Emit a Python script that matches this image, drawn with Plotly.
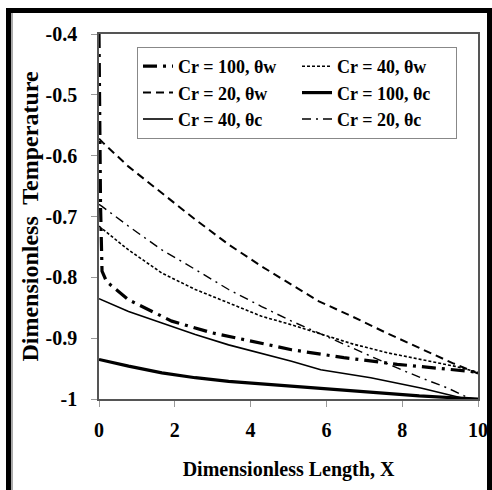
import plotly.graph_objects as go

# ---- data ----
x_cr100_w = [0, 0.04, 0.08, 0.2, 0.78, 1.92, 2.97, 4.2, 5.08, 6.46, 7.87, 9.2, 10]
y_cr100_w = [-0.40, -0.68, -0.79, -0.807, -0.837, -0.872, -0.891, -0.908, -0.919, -0.932, -0.943, -0.951, -0.956]

x_cr40_w = [0, 0.78, 1.66, 2.54, 3.42, 4.29, 5.08, 5.85, 6.72, 7.61, 8.49, 9.37, 10]
y_cr40_w = [-0.716, -0.755, -0.793, -0.820, -0.842, -0.864, -0.878, -0.893, -0.910, -0.924, -0.935, -0.946, -0.956]

x_cr20_w = [0, 0.11, 0.78, 1.66, 2.54, 3.42, 4.29, 5.08, 5.79, 6.67, 7.57, 8.45, 9.33, 10]
y_cr20_w = [-0.572, -0.579, -0.618, -0.661, -0.705, -0.746, -0.782, -0.812, -0.839, -0.864, -0.891, -0.916, -0.941, -0.958]

x_cr100_c = [0, 0.78, 1.66, 2.54, 3.42, 4.29, 5.08, 5.85, 6.67, 7.61, 8.45, 9.37, 10]
y_cr100_c = [-0.935, -0.946, -0.957, -0.965, -0.971, -0.975, -0.979, -0.982, -0.987, -0.990, -0.995, -0.998, -1.0]

x_cr40_c = [0, 0.78, 1.66, 2.54, 3.42, 4.29, 5.08, 5.85, 7.17, 8.49, 9.55, 10]
y_cr40_c = [-0.835, -0.856, -0.875, -0.894, -0.911, -0.925, -0.938, -0.952, -0.965, -0.982, -0.998, -1.0]

x_cr20_c = [0, 0.07, 0.78, 1.66, 2.54, 3.42, 4.29, 5.08, 5.85, 6.72, 7.17, 7.87, 8.49, 9.2, 9.64, 9.85]
y_cr20_c = [-0.680, -0.683, -0.716, -0.755, -0.787, -0.820, -0.848, -0.872, -0.893, -0.917, -0.930, -0.949, -0.965, -0.982, -0.995, -1.0]

series_names = ["Cr = 100, θw", "Cr = 40, θw", "Cr = 20, θw",
                "Cr = 100, θc", "Cr = 40, θc", "Cr = 20, θc"]

x_tick_vals = [0, 2, 4, 6, 8, 10]
x_tick_text = ["0", "2", "4", "6", "8", "10"]
y_tick_vals = [-1.0, -0.9, -0.8, -0.7, -0.6, -0.5, -0.4]
y_tick_text = ["-1", "-0.9", "-0.8", "-0.7", "-0.6", "-0.5", "-0.4"]

x_title = "Dimensionless Length, X"
y_title = "Dimensionless  Temperature"

# ---- styling ----
FONT = "Liberation Serif"
styles = [
    dict(width=3.2, dash="14px,6px,3px,6px"),
    dict(width=1.6, dash="3px,2px"),
    dict(width=2.0, dash="8px,5px"),
    dict(width=3.2, dash="solid"),
    dict(width=1.6, dash="solid"),
    dict(width=1.4, dash="9px,5px,2px,5px"),
]
xs = [x_cr100_w, x_cr40_w, x_cr20_w, x_cr100_c, x_cr40_c, x_cr20_c]
ys = [y_cr100_w, y_cr40_w, y_cr20_w, y_cr100_c, y_cr40_c, y_cr20_c]

fig = go.Figure()
for name, x, y, st in zip(series_names, xs, ys, styles):
    fig.add_trace(go.Scatter(
        x=x, y=y, name=name, mode="lines",
        line=dict(color="black", width=st["width"], dash=st["dash"]),
    ))

W, H = 492, 490
L, T = 99, 34
R = W - 478
B = H - 399
pw, ph = W - L - R, H - T - B

def px_x(p):
    return (p - L) / pw

def px_y(p):
    return (H - B - p) / ph

fig.update_layout(
    width=W, height=H, autosize=False,
    margin=dict(l=L, r=R, t=T, b=B, autoexpand=False),
    paper_bgcolor="white", plot_bgcolor="white",
    font=dict(family=FONT, color="black"),
    showlegend=True,
    legend=dict(
        orientation="h",
        x=px_x(137), y=px_y(47), xanchor="left", yanchor="top",
        bgcolor="white", bordercolor="#888", borderwidth=1,
        font=dict(family=FONT, size=18, weight="bold", color="black"),
        entrywidth=114, entrywidthmode="pixels",
        itemwidth=30, tracegroupgap=0,
    ),
    xaxis=dict(
        range=[0, 10], tickvals=x_tick_vals, ticktext=x_tick_text,
        automargin=False,
        showgrid=False, zeroline=False,
        showline=True, linecolor="#555", linewidth=1.5, mirror=True,
        ticks="outside", ticklen=6, tickcolor="#999", tickwidth=1,
        tickfont=dict(family=FONT, size=20, weight="bold", color="black"),
        ticklabelstandoff=6,
        title=dict(text=x_title, standoff=22,
                   font=dict(family=FONT, size=20, weight="bold", color="black")),
    ),
    yaxis=dict(
        range=[-1.0, -0.4], tickvals=y_tick_vals, ticktext=y_tick_text,
        automargin=False,
        showgrid=False, zeroline=False,
        showline=True, linecolor="#555", linewidth=1.5, mirror=True,
        ticks="outside", ticklen=6, tickcolor="#999", tickwidth=1,
        tickfont=dict(family=FONT, size=20, weight="bold", color="black"),
        ticklabelstandoff=10,
        title=dict(text=y_title, standoff=0,
                   font=dict(family=FONT, size=24, weight="bold", color="black")),
    ),
)

# outer frame of the picture: filled black bands (left, top, right)
def band(x0, x1, y0, y1, color="black"):
    fig.add_shape(type="rect", xref="paper", yref="paper",
                  x0=px_x(x0), x1=px_x(x1), y0=px_y(y1), y1=px_y(y0),
                  fillcolor=color, line=dict(width=0), layer="above")

band(6, 11, 8, 495)        # left
band(6, 492, 8, 13)        # top
band(487, 492, 8, 495)     # right
band(11, 13, 13, 495, "#aaa")  # inner grey shade on the left

# draw the figure flush with the page's top-left corner
fig.write_html(
    "out.html",
    config={"displayModeBar": False},
    post_script="document.body.style.margin='0';document.body.style.overflow='hidden';",
)
